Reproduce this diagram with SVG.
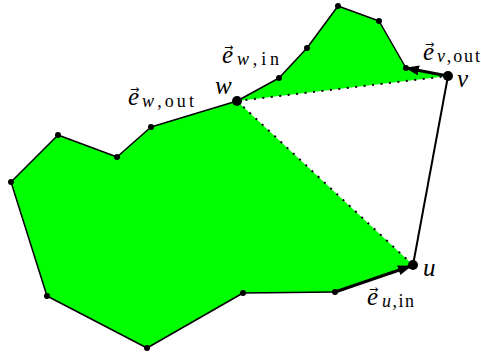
<svg xmlns="http://www.w3.org/2000/svg" width="481" height="352" viewBox="0 0 481 352">
<style>
.poly{fill:#00ff00;stroke:none}
.edge{fill:none;stroke:#000;stroke-width:1.5;stroke-linejoin:round}
.dot{fill:none;stroke:#000;stroke-width:2;stroke-dasharray:2 6.5}
.vec{fill:none;stroke:#000;stroke-width:3}
.v{fill:#000}
.lbl{font-family:"Liberation Serif","DejaVu Serif",serif;font-size:25px;font-style:italic;fill:#000}
.sub{font-family:"Liberation Serif","DejaVu Serif",serif;font-size:18px;fill:#000}
.it{font-style:italic}
.acc{font-family:"DejaVu Sans",sans-serif;font-size:11px;fill:#000}
</style>
<defs>
<marker id="ah" markerUnits="userSpaceOnUse" markerWidth="16" markerHeight="12" refX="13" refY="5" orient="auto">
<path d="M0,0 L14,5 L0,10 Z" fill="#000"/>
</marker>
</defs>
<g id="regions">
<polygon class="poly" points="237,101 279,78 307,48 338,6 379,21 406,68 448,76"/>
<polygon class="poly" points="237,101 151,127 117,157 58,135 11,182 47,296 147,348 243,293 335,292 413,265"/>
</g>
<g id="connectors">
<polyline class="edge" points="237,101 279,78 307,48 338,6 379,21 406,68"/>
<polyline class="edge" points="237,101 151,127 117,157 58,135 11,182 47,296 147,348 243,293 335,292"/>
<line class="dot" x1="237" y1="101" x2="448" y2="76"/>
<line class="dot" x1="237" y1="101" x2="413" y2="265"/>
<line class="edge" style="stroke-width:2" x1="448" y1="76" x2="413" y2="265"/>
<line class="vec" x1="448" y1="76" x2="406" y2="68" marker-end="url(#ah)"/>
<line class="vec" x1="335" y1="292" x2="411" y2="266" marker-end="url(#ah)"/>
</g>
<g id="node-w"><circle class="v" cx="237" cy="101" r="5"/><text class="lbl" x="215" y="94">w</text></g>
<g id="node-v"><circle class="v" cx="448" cy="76" r="5"/><text class="lbl" x="457" y="87">v</text></g>
<g id="node-u"><circle class="v" cx="413" cy="265" r="5"/><text class="lbl" x="423" y="276">u</text></g>
<g id="vertices">
<circle class="v" cx="279" cy="78" r="3"/>
<circle class="v" cx="307" cy="48" r="3"/>
<circle class="v" cx="338" cy="6" r="3"/>
<circle class="v" cx="379" cy="21" r="3"/>
<circle class="v" cx="406" cy="68" r="3"/>
<circle class="v" cx="151" cy="127" r="3"/>
<circle class="v" cx="117" cy="157" r="3"/>
<circle class="v" cx="58" cy="135" r="3"/>
<circle class="v" cx="11" cy="182" r="3"/>
<circle class="v" cx="47" cy="296" r="3"/>
<circle class="v" cx="147" cy="348" r="3"/>
<circle class="v" cx="243" cy="293" r="3"/>
<circle class="v" cx="335" cy="292" r="3"/>
</g>
<g id="label-ew-out">
<text class="acc" x="130" y="93">→</text>
<text class="lbl" x="128" y="105">e</text>
<text class="sub" x="142" y="107" textLength="52" lengthAdjust="spacing"><tspan class="it">w</tspan>,out</text>
</g>
<g id="label-ew-in">
<text class="acc" x="224" y="51">→</text>
<text class="lbl" x="222" y="63">e</text>
<text class="sub" x="237" y="65" textLength="42" lengthAdjust="spacing"><tspan class="it">w</tspan>,in</text>
</g>
<g id="label-ev-out">
<text class="acc" x="425" y="48">→</text>
<text class="lbl" x="423" y="60">e</text>
<text class="sub" x="437" y="62" textLength="43" lengthAdjust="spacing"><tspan class="it">v</tspan>,out</text>
</g>
<g id="label-eu-in">
<text class="acc" x="369" y="293">→</text>
<text class="lbl" x="367" y="305">e</text>
<text class="sub" x="382" y="307" textLength="32" lengthAdjust="spacing"><tspan class="it">u</tspan>,in</text>
</g>
</svg>
